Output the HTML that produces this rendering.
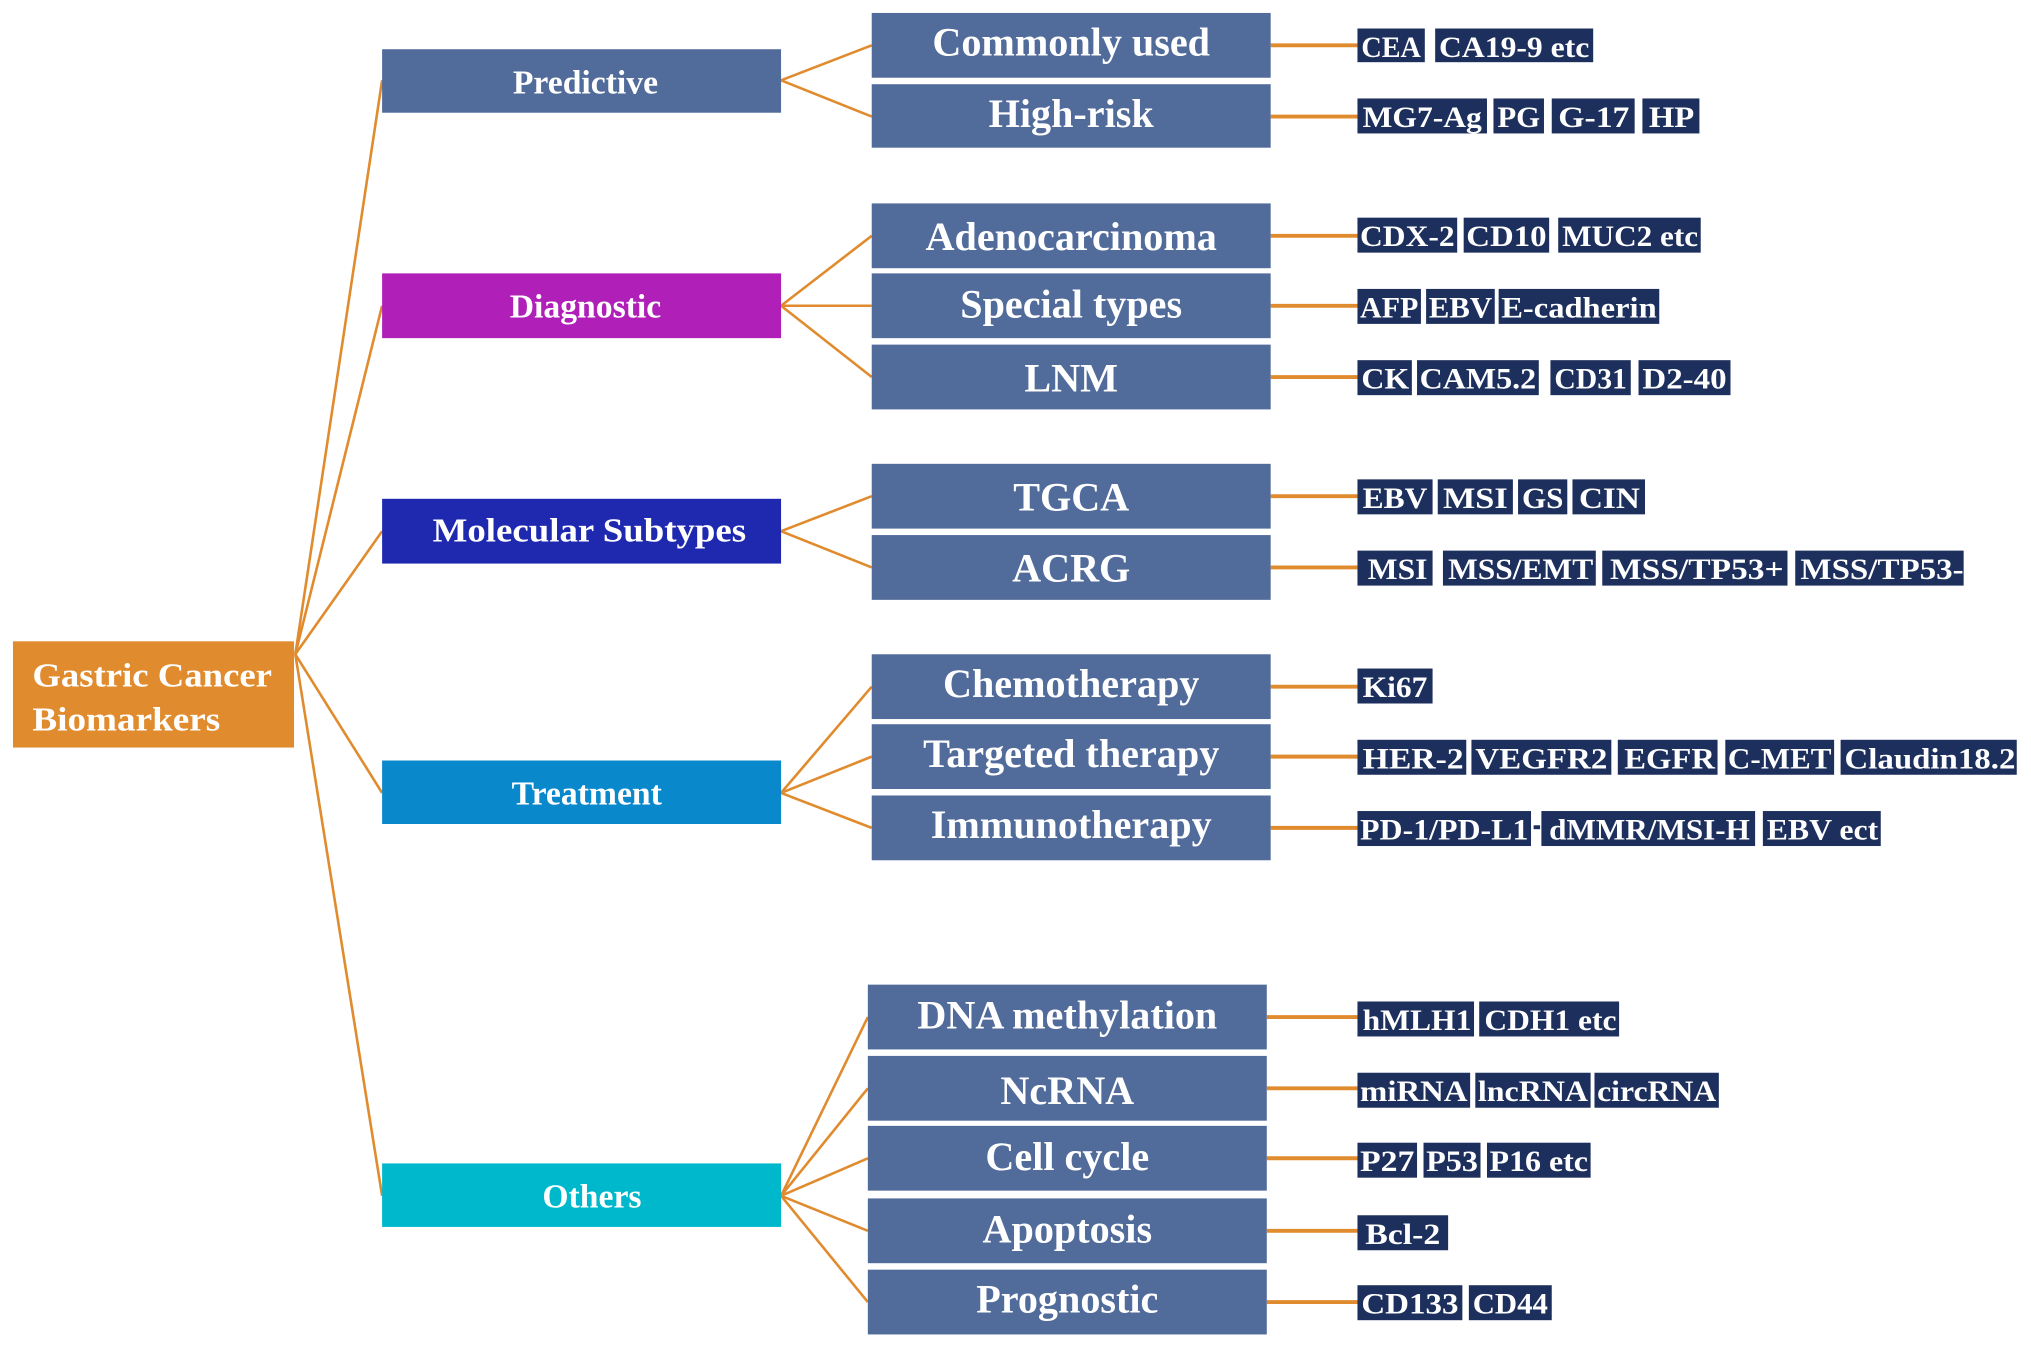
<!DOCTYPE html>
<html><head><meta charset="utf-8"><style>
html,body{margin:0;padding:0;background:#fff;}
svg{display:block;}
text{font-family:"Liberation Serif",serif;font-weight:bold;fill:#fff;}
.l2 text{font-size:31px;}
.tag rect{fill:#1d2f5c;}
.tag text{font-size:23px;}
line{stroke:#e08b2e;stroke-width:2;}
.lf{stroke-width:3;}
</style></head><body>
<svg width="2031" height="1350" viewBox="0 0 1568 1042" preserveAspectRatio="none" xmlns="http://www.w3.org/2000/svg">
<!-- root lines -->
<line x1="228" y1="505" x2="295" y2="62"/>
<line x1="228" y1="505" x2="295" y2="236"/>
<line x1="228" y1="505" x2="295" y2="410"/>
<line x1="228" y1="505" x2="295" y2="612"/>
<line x1="228" y1="505" x2="295" y2="923"/>
<!-- level1 to level2 -->
<line x1="603" y1="62" x2="673" y2="35"/><line x1="603" y1="62" x2="673" y2="90"/>
<line x1="603" y1="236" x2="673" y2="182"/><line x1="603" y1="236" x2="673" y2="236"/><line x1="603" y1="236" x2="673" y2="291"/>
<line x1="603" y1="410" x2="673" y2="383"/><line x1="603" y1="410" x2="673" y2="438"/>
<line x1="603" y1="612" x2="673" y2="530"/><line x1="603" y1="612" x2="673" y2="584"/><line x1="603" y1="612" x2="673" y2="639"/>
<line x1="603" y1="923" x2="670" y2="785"/><line x1="603" y1="923" x2="670" y2="840"/><line x1="603" y1="923" x2="670" y2="894"/><line x1="603" y1="923" x2="670" y2="950"/><line x1="603" y1="923" x2="670" y2="1005"/>
<!-- leaf lines -->
<g class="lf">
<line class="lf" x1="981" y1="35" x2="1048" y2="35"/><line class="lf" x1="981" y1="90" x2="1048" y2="90"/>
<line class="lf" x1="981" y1="182" x2="1048" y2="182"/><line class="lf" x1="981" y1="236" x2="1048" y2="236"/><line class="lf" x1="981" y1="291" x2="1048" y2="291"/>
<line class="lf" x1="981" y1="383" x2="1048" y2="383"/><line class="lf" x1="981" y1="438" x2="1048" y2="438"/>
<line class="lf" x1="981" y1="530" x2="1048" y2="530"/><line class="lf" x1="981" y1="584" x2="1048" y2="584"/><line class="lf" x1="981" y1="639" x2="1048" y2="639"/>
<line class="lf" x1="978" y1="785" x2="1048" y2="785"/><line class="lf" x1="978" y1="840" x2="1048" y2="840"/><line class="lf" x1="978" y1="894" x2="1048" y2="894"/><line class="lf" x1="978" y1="950" x2="1048" y2="950"/><line class="lf" x1="978" y1="1005" x2="1048" y2="1005"/>
</g>
<!-- root -->
<rect x="10" y="495" width="217" height="82" fill="#e08b2e"/>
<text x="25" y="530" font-size="26" textLength="185" lengthAdjust="spacingAndGlyphs">Gastric Cancer</text>
<text x="25" y="564" font-size="26" textLength="145" lengthAdjust="spacingAndGlyphs">Biomarkers</text>
<!-- level1 -->
<rect x="295" y="38" width="308" height="49" fill="#516b9b"/>
<text x="452" y="72" font-size="26" text-anchor="middle">Predictive</text>
<rect x="295" y="211" width="308" height="50" fill="#b020b8"/>
<text x="452" y="245" font-size="26" text-anchor="middle">Diagnostic</text>
<rect x="295" y="385" width="308" height="50" fill="#1f29b0"/>
<text x="455" y="418" font-size="26" text-anchor="middle" textLength="242" lengthAdjust="spacingAndGlyphs">Molecular Subtypes</text>
<rect x="295" y="587" width="308" height="49" fill="#0a88cc"/>
<text x="453" y="621" font-size="26" text-anchor="middle">Treatment</text>
<rect x="295" y="898" width="308" height="49" fill="#00b8cb"/>
<text x="457" y="932" font-size="26" text-anchor="middle">Others</text>
<!-- level2 -->
<g class="l2" fill="#516b9b">
<rect x="673" y="10" width="308" height="50"/><text x="827" y="43" text-anchor="middle">Commonly used</text>
<rect x="673" y="65" width="308" height="49"/><text x="827" y="98" text-anchor="middle">High-risk</text>
<rect x="673" y="157" width="308" height="50"/><text x="827" y="193" text-anchor="middle">Adenocarcinoma</text>
<rect x="673" y="211" width="308" height="50"/><text x="827" y="245" text-anchor="middle">Special types</text>
<rect x="673" y="266" width="308" height="50"/><text x="827" y="302" text-anchor="middle">LNM</text>
<rect x="673" y="358" width="308" height="50"/><text x="827" y="394" text-anchor="middle">TGCA</text>
<rect x="673" y="413" width="308" height="50"/><text x="827" y="449" text-anchor="middle">ACRG</text>
<rect x="673" y="505" width="308" height="50"/><text x="827" y="538" text-anchor="middle">Chemotherapy</text>
<rect x="673" y="559" width="308" height="50"/><text x="827" y="592" text-anchor="middle">Targeted therapy</text>
<rect x="673" y="614" width="308" height="50"/><text x="827" y="647" text-anchor="middle">Immunotherapy</text>
<rect x="670" y="760" width="308" height="50"/><text x="824" y="794" text-anchor="middle">DNA methylation</text>
<rect x="670" y="815" width="308" height="50"/><text x="824" y="852" text-anchor="middle">NcRNA</text>
<rect x="670" y="869" width="308" height="50"/><text x="824" y="903" text-anchor="middle">Cell cycle</text>
<rect x="670" y="925" width="308" height="50"/><text x="824" y="959" text-anchor="middle">Apoptosis</text>
<rect x="670" y="980" width="308" height="50"/><text x="824" y="1013" text-anchor="middle">Prognostic</text>
</g>
<!-- tags -->
<g class="tag">
<rect x="1048" y="22" width="52" height="26"/><text x="1051" y="44" textLength="46" lengthAdjust="spacingAndGlyphs">CEA</text>
<rect x="1108" y="22" width="122" height="26"/><text x="1111" y="44" textLength="116" lengthAdjust="spacingAndGlyphs">CA19-9 etc</text>

<rect x="1048" y="76" width="100" height="27"/><text x="1052" y="98" textLength="92" lengthAdjust="spacingAndGlyphs">MG7-Ag</text>
<rect x="1153" y="76" width="39" height="27"/><text x="1156" y="98" textLength="33" lengthAdjust="spacingAndGlyphs">PG</text>
<rect x="1198" y="76" width="64" height="27"/><text x="1203" y="98" textLength="55" lengthAdjust="spacingAndGlyphs">G-17</text>
<rect x="1268" y="76" width="44" height="27"/><text x="1273" y="98" textLength="35" lengthAdjust="spacingAndGlyphs">HP</text>

<rect x="1048" y="168" width="77" height="27"/><text x="1050" y="190" textLength="73" lengthAdjust="spacingAndGlyphs">CDX-2</text>
<rect x="1130" y="168" width="66" height="27"/><text x="1132" y="190" textLength="62" lengthAdjust="spacingAndGlyphs">CD10</text>
<rect x="1203" y="168" width="110" height="27"/><text x="1206" y="190" textLength="105" lengthAdjust="spacingAndGlyphs">MUC2 etc</text>

<rect x="1048" y="223" width="49" height="27"/><text x="1050" y="245" textLength="45" lengthAdjust="spacingAndGlyphs">AFP</text>
<rect x="1101" y="223" width="53" height="27"/><text x="1103" y="245" textLength="49" lengthAdjust="spacingAndGlyphs">EBV</text>
<rect x="1157" y="223" width="124" height="27"/><text x="1159" y="245" textLength="120" lengthAdjust="spacingAndGlyphs">E-cadherin</text>

<rect x="1048" y="278" width="42" height="27"/><text x="1051" y="300" textLength="37" lengthAdjust="spacingAndGlyphs">CK</text>
<rect x="1094" y="278" width="94" height="27"/><text x="1096" y="300" textLength="90" lengthAdjust="spacingAndGlyphs">CAM5.2</text>
<rect x="1197" y="278" width="62" height="27"/><text x="1200" y="300" textLength="56" lengthAdjust="spacingAndGlyphs">CD31</text>
<rect x="1265" y="278" width="71" height="27"/><text x="1268" y="300" textLength="65" lengthAdjust="spacingAndGlyphs">D2-40</text>

<rect x="1048" y="370" width="58" height="27"/><text x="1052" y="392" textLength="50" lengthAdjust="spacingAndGlyphs">EBV</text>
<rect x="1110" y="370" width="58" height="27"/><text x="1114" y="392" textLength="50" lengthAdjust="spacingAndGlyphs">MSI</text>
<rect x="1172" y="370" width="38" height="27"/><text x="1175" y="392" textLength="32" lengthAdjust="spacingAndGlyphs">GS</text>
<rect x="1214" y="370" width="56" height="27"/><text x="1219" y="392" textLength="47" lengthAdjust="spacingAndGlyphs">CIN</text>

<rect x="1048" y="425" width="58" height="27"/><text x="1056" y="447" textLength="46" lengthAdjust="spacingAndGlyphs">MSI</text>
<rect x="1114" y="425" width="118" height="27"/><text x="1118" y="447" textLength="112" lengthAdjust="spacingAndGlyphs">MSS/EMT</text>
<rect x="1237" y="425" width="143" height="27"/><text x="1243" y="447" textLength="134" lengthAdjust="spacingAndGlyphs">MSS/TP53+</text>
<rect x="1386" y="425" width="130" height="27"/><text x="1390" y="447" textLength="126" lengthAdjust="spacingAndGlyphs">MSS/TP53-</text>

<rect x="1048" y="516" width="58" height="27"/><text x="1052" y="538" textLength="50" lengthAdjust="spacingAndGlyphs">Ki67</text>

<rect x="1048" y="571" width="84" height="27"/><text x="1052" y="593" textLength="78" lengthAdjust="spacingAndGlyphs">HER-2</text>
<rect x="1136" y="571" width="108" height="27"/><text x="1139" y="593" textLength="102" lengthAdjust="spacingAndGlyphs">VEGFR2</text>
<rect x="1249" y="571" width="77" height="27"/><text x="1254" y="593" textLength="70" lengthAdjust="spacingAndGlyphs">EGFR</text>
<rect x="1332" y="571" width="84" height="27"/><text x="1334" y="593" textLength="80" lengthAdjust="spacingAndGlyphs">C-MET</text>
<rect x="1421" y="571" width="136" height="27"/><text x="1424" y="593" textLength="132" lengthAdjust="spacingAndGlyphs">Claudin18.2</text>

<rect x="1048" y="626" width="134" height="27"/><text x="1050" y="648" textLength="130" lengthAdjust="spacingAndGlyphs">PD-1/PD-L1</text>
<rect x="1184" y="637" width="5" height="3"/>
<rect x="1190" y="626" width="165" height="27"/><text x="1196" y="648" textLength="155" lengthAdjust="spacingAndGlyphs">dMMR/MSI-H</text>
<rect x="1361" y="626" width="91" height="27"/><text x="1364" y="648" textLength="86" lengthAdjust="spacingAndGlyphs">EBV ect</text>

<rect x="1048" y="773" width="90" height="27"/><text x="1052" y="795" textLength="84" lengthAdjust="spacingAndGlyphs">hMLH1</text>
<rect x="1142" y="773" width="108" height="27"/><text x="1146" y="795" textLength="102" lengthAdjust="spacingAndGlyphs">CDH1 etc</text>

<rect x="1048" y="828" width="87" height="27"/><text x="1050" y="850" textLength="83" lengthAdjust="spacingAndGlyphs">miRNA</text>
<rect x="1139" y="828" width="89" height="27"/><text x="1141" y="850" textLength="85" lengthAdjust="spacingAndGlyphs">lncRNA</text>
<rect x="1231" y="828" width="96" height="27"/><text x="1233" y="850" textLength="92" lengthAdjust="spacingAndGlyphs">circRNA</text>

<rect x="1048" y="882" width="46" height="27"/><text x="1050" y="904" textLength="42" lengthAdjust="spacingAndGlyphs">P27</text>
<rect x="1099" y="882" width="44" height="27"/><text x="1101" y="904" textLength="40" lengthAdjust="spacingAndGlyphs">P53</text>
<rect x="1148" y="882" width="80" height="27"/><text x="1150" y="904" textLength="76" lengthAdjust="spacingAndGlyphs">P16 etc</text>

<rect x="1048" y="938" width="70" height="27"/><text x="1054" y="960" textLength="58" lengthAdjust="spacingAndGlyphs">Bcl-2</text>

<rect x="1048" y="992" width="81" height="27"/><text x="1051" y="1014" textLength="75" lengthAdjust="spacingAndGlyphs">CD133</text>
<rect x="1134" y="992" width="64" height="27"/><text x="1137" y="1014" textLength="58" lengthAdjust="spacingAndGlyphs">CD44</text>
</g>
</svg>
</body></html>
